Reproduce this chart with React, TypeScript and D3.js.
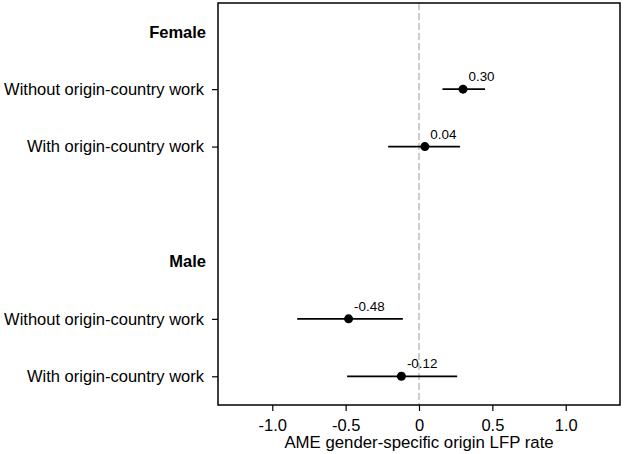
import React, { useEffect, useRef } from "react";
import { select, scaleLinear, scalePoint, axisBottom, axisLeft } from "d3";

const groups = ["Female", "Male"];
const conditions = ["Without origin-country work", "With origin-country work"];
const estimates = [0.3, 0.04, -0.48, -0.12];
const lowerCI = [0.16, -0.21, -0.83, -0.49];
const upperCI = [0.45, 0.28, -0.11, 0.26];
const xTicks = [-1, -0.5, 0, 0.5, 1];
const xTitle = "AME gender-specific origin LFP rate";

const WIDTH = 624;
const HEIGHT = 454;
const FONT = "'Liberation Sans', Arial, sans-serif";

function CoefPlot() {
  const svgRef = useRef<SVGSVGElement>(null);

  useEffect(() => {
    select(svgRef.current).selectAll("*").remove();
    const svg = select(svgRef.current);
    const left = 218;
    const right = 620;
    const top = 3;
    const bottom = 405;

    // rows: header, two conditions, a blank spacer, header, two conditions
    const rows: string[] = [];
    const points: any[] = [];
    groups.forEach((g, gi) => {
      if (gi > 0) rows.push("gap");
      rows.push("h-" + g);
      conditions.forEach((c, ci) => {
        const key = g + "-" + c;
        rows.push(key);
        const i = gi * conditions.length + ci;
        points.push({ key, est: estimates[i], lo: lowerCI[i], hi: upperCI[i] });
      });
    });

    const x = scaleLinear().domain([-1.37, 1.37]).range([left, right]);
    const y = scalePoint().domain(rows).range([top, bottom]).padding(0.5);

    // zero reference line
    svg
      .append("line")
      .attr("x1", x(0))
      .attr("x2", x(0))
      .attr("y1", top)
      .attr("y2", bottom)
      .attr("stroke", "#bdbdbd")
      .attr("stroke-width", 1.5)
      .attr("stroke-dasharray", "7,3");

    // frame
    svg
      .append("rect")
      .attr("x", left)
      .attr("y", top)
      .attr("width", right - left)
      .attr("height", bottom - top)
      .attr("fill", "none")
      .attr("stroke", "#000")
      .attr("stroke-width", 1.5);

    // x axis
    const gx = svg
      .append("g")
      .attr("transform", `translate(0,${bottom})`)
      .call(
        axisBottom(x)
          .tickValues(xTicks)
          .tickSize(6)
          .tickSizeOuter(0)
          .tickFormat((d: any) => (d === 0 ? "0" : Number(d).toFixed(1)))
      );
    gx.select(".domain").remove();
    gx.selectAll("line").attr("stroke", "#000").attr("stroke-width", 1.2);
    gx.selectAll("text")
      .attr("y", 0)
      .attr("dy", null)
      .attr("transform", "translate(0,26)")
      .attr("font-family", FONT)
      .attr("font-size", 16.5)
      .attr("fill", "#000");

    svg
      .append("text")
      .attr("x", x(0))
      .attr("y", 448)
      .attr("text-anchor", "middle")
      .attr("font-family", FONT)
      .attr("font-size", 16.8)
      .text(xTitle);

    // y axis ticks for condition rows
    const condRows = points.map((p) => p.key);
    const gy = svg
      .append("g")
      .attr("transform", `translate(${left},0)`)
      .call(
        axisLeft(y)
          .tickValues(condRows)
          .tickSize(6)
          .tickPadding(8)
          .tickFormat((d: any) => d.split("-").slice(1).join("-"))
      );
    gy.select(".domain").remove();
    gy.selectAll("line").attr("stroke", "#000").attr("stroke-width", 1.2);
    gy.selectAll("text")
      .attr("font-family", FONT)
      .attr("font-size", 16.5)
      .attr("fill", "#000");

    // group headers
    svg
      .selectAll(".hdr")
      .data(groups)
      .enter()
      .append("text")
      .attr("x", 206)
      .attr("y", (d) => (y("h-" + d) as number) + 6)
      .attr("text-anchor", "end")
      .attr("font-family", FONT)
      .attr("font-size", 16.5)
      .attr("font-weight", "bold")
      .text((d) => d);

    // confidence intervals
    svg
      .selectAll(".ci")
      .data(points)
      .enter()
      .append("line")
      .attr("x1", (d) => x(d.lo))
      .attr("x2", (d) => x(d.hi))
      .attr("y1", (d) => y(d.key) as number)
      .attr("y2", (d) => y(d.key) as number)
      .attr("stroke", "#000")
      .attr("stroke-width", 1.8);

    svg
      .selectAll(".pt")
      .data(points)
      .enter()
      .append("circle")
      .attr("cx", (d) => x(d.est))
      .attr("cy", (d) => y(d.key) as number)
      .attr("r", 4.5)
      .attr("fill", "#000");

    svg
      .selectAll(".lbl")
      .data(points)
      .enter()
      .append("text")
      .attr("x", (d) => x(d.est) + 5.5)
      .attr("y", (d) => (y(d.key) as number) - 8)
      .attr("font-family", FONT)
      .attr("font-size", 13.4)
      .text((d) => d.est.toFixed(2));
  }, []);

  return (
    <svg
      width={WIDTH}
      height={HEIGHT}
      ref={svgRef}
      style={{ position: "absolute", left: 0, top: 0, background: "#fff" }}
    ></svg>
  );
}

export default function App() {
  return <CoefPlot />;
}
